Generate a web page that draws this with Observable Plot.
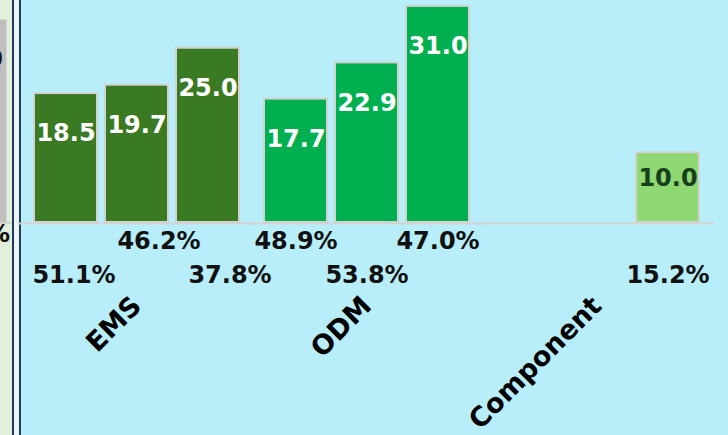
<!DOCTYPE html>
<html>
<head>
<meta charset="utf-8">
<script src="https://cdn.jsdelivr.net/npm/d3@7"></script>
<script src="https://cdn.jsdelivr.net/npm/@observablehq/plot@0.6"></script>
<style>
  html, body { margin: 0; padding: 0; background: #b8eefa; }
  #wrap { position: relative; width: 728px; height: 435px; overflow: hidden; background: #b8eefa; font-family: "DejaVu Sans", sans-serif; }
  #strip { position: absolute; left: 0; top: 0; width: 12px; height: 435px; background: #e2efda; overflow: hidden; }
  #strip .bar { position: absolute; left: -3px; top: 19px; width: 8px; height: 202px; background: #bfbfbf; border: 1.5px solid #d6d6d6; }
  #strip .base { position: absolute; left: 0; top: 222px; width: 12px; height: 2px; background: #d3d3d3; }
  #strip .t { position: absolute; right: -1px; font-weight: bold; font-size: 24px; color: #111; white-space: nowrap; line-height: 1; }
  #dbl { position: absolute; left: 12px; top: 0; width: 9px; height: 435px; background: #eef3f8; border-left: 2px solid #1f3a5f; border-right: 2px solid #1f3a5f; box-sizing: border-box; }
  #chart { position: absolute; left: 0; top: 0; }
</style>
</head>
<body>
<div id="wrap">
  <div id="strip">
    <div class="bar"></div>
    <div class="base"></div>
    <div class="t" style="top:47px; right:9px;">20.0</div>
    <div class="t" style="top:222px; right:2px;">%</div>
  </div>
  <div id="dbl"></div>
  <div id="chart"></div>
</div>
<script>
const groups = ["EMS", "ODM", "Component"];
const slots = [0, 1, 2];
const emsValues = [18.5, 19.7, 25.0];
const odmValues = [17.7, 22.9, 31.0];
const componentValues = [null, null, 10.0];
const emsShares = ["51.1%", "46.2%", "37.8%"];
const odmShares = ["48.9%", "53.8%", "47.0%"];
const componentShares = [null, null, "15.2%"];
const barColors = ["#3a7a23", "#00b050", "#8fd874"];

const valuesByGroup = [emsValues, odmValues, componentValues];
const sharesByGroup = [emsShares, odmShares, componentShares];
const rows = [];
groups.forEach((g, gi) => slots.forEach(s => {
  rows.push({group: g, slot: s, index: gi * 3 + s, value: valuesByGroup[gi][s], share: sharesByGroup[gi][s]});
}));
const bars = rows.filter(d => d.value != null);
const shares = rows.filter(d => d.share != null);

const font = "DejaVu Sans, sans-serif";
const common = {fx: "group", x: "slot", y: () => 0, text: "share", fill: "#111", fontSize: 24, fontWeight: "bold"};

const chart = Plot.plot({
  width: 728,
  height: 435,
  marginLeft: 29,
  marginRight: 25,
  marginTop: 0,
  marginBottom: 213,
  style: {background: "transparent", fontFamily: font, overflow: "visible"},
  fx: {domain: groups, paddingInner: 0.076, paddingOuter: 0, axis: null, label: null},
  x: {domain: slots, paddingInner: 0.113, paddingOuter: 0.0565, axis: null},
  y: {domain: [0, 31.85], axis: null},
  color: {domain: groups, range: barColors},
  marks: [
    Plot.barY(bars, {fx: "group", x: "slot", y: "value", fill: "group", stroke: "#d2d2d2", strokeWidth: 2}),
    Plot.ruleY([0], {stroke: "#d3d3d3", strokeWidth: 2, insetLeft: -12, insetRight: -12, dy: 1}),
    Plot.text(bars.filter(d => d.group !== "Component"), {fx: "group", x: "slot", y: "value", text: d => d.value.toFixed(1), fill: "white", fontSize: 24, fontWeight: "bold", dy: 40}),
    Plot.text(bars.filter(d => d.group === "Component"), {fx: "group", x: "slot", y: "value", text: d => d.value.toFixed(1), fill: "#17401a", fontSize: 24, fontWeight: "bold", dy: 26}),
    // share labels: upper row (odd index) and lower row (even index)
    Plot.text(shares.filter(d => d.group !== "EMS" && d.index % 2 === 1), {...common, dy: 19}),
    Plot.text(shares.filter(d => d.group !== "EMS" && d.index % 2 === 0), {...common, dy: 53}),
    Plot.text(shares.filter(d => d.group === "EMS" && d.slot === 0), {...common, dy: 53, dx: 8}),
    Plot.text(shares.filter(d => d.group === "EMS" && d.slot === 1), {...common, dy: 19, dx: 22}),
    Plot.text(shares.filter(d => d.group === "EMS" && d.slot === 2), {...common, dy: 53, dx: 22}),
    // category labels
    Plot.text(groups, {fx: d => d, x: () => 1, y: () => 0, text: d => d, rotate: -45, textAnchor: "end", dy: 79, fontSize: 27, fontWeight: "bold", fill: "#000"})
  ]
});
document.getElementById("chart").appendChild(chart);
</script>
</body>
</html>
